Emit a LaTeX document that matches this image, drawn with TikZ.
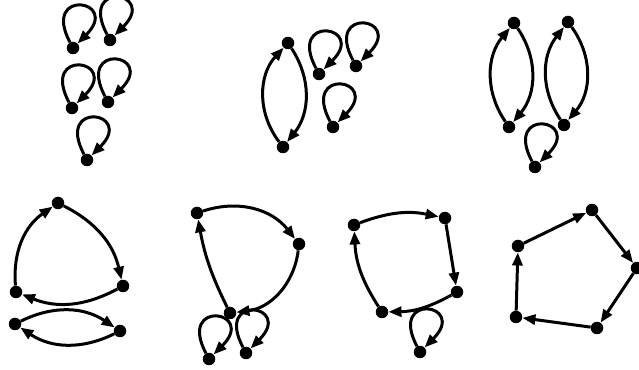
\documentclass[tikz,border=0pt]{standalone}
\usetikzlibrary{arrows.meta}
\begin{document}
\begin{tikzpicture}[x=1pt,y=1pt,
  dot/.style={circle,fill=black,inner sep=0pt,minimum size=12.5pt},
  arr/.style={line width=3pt,-{Triangle[length=13pt,width=10pt]}},
  selfloop/.style={out=118,in=45,min distance=62pt}]
\useasboundingbox (0,0) rectangle (639,369);
% panel 1
\node[dot] (A) at (73,321) {};
\node[dot] (B) at (110,329) {};
\node[dot] (C) at (72,261) {};
\node[dot] (D) at (108,267) {};
\node[dot] (E) at (87,209) {};
\foreach \n in {A,B,C,D,E} \draw[arr] (\n) to[selfloop] (\n);
% panel 2
\node[dot] (P) at (288,326) {};
\node[dot] (Q) at (283,222) {};
\node[dot] (R) at (319,295) {};
\node[dot] (S) at (356,303) {};
\node[dot] (T) at (333,242) {};
\draw[arr] (Q) to[bend left=40] (P);
\draw[arr] (P) to[bend left=36] (Q);
\foreach \n in {R,S,T} \draw[arr] (\n) to[selfloop] (\n);
% panel 3
\node[dot] (U1) at (514,346) {};
\node[dot] (U2) at (509,242) {};
\node[dot] (V1) at (568,347) {};
\node[dot] (V2) at (564,244) {};
\node[dot] (W) at (535,202) {};
\draw[arr] (U2) to[bend left=37] (U1);
\draw[arr] (U1) to[bend left=37] (U2);
\draw[arr] (V2) to[bend left=36] (V1);
\draw[arr] (V1) to[bend left=38] (V2);
\draw[arr] (W) to[selfloop] (W);
% panel 4
\node[dot] (X1) at (58,166) {};
\node[dot] (X2) at (123,83) {};
\node[dot] (X3) at (16,77) {};
\node[dot] (Y1) at (15,45) {};
\node[dot] (Y2) at (120,38) {};
\draw[arr] (X3) to[bend left=30] (X1);
\draw[arr] (X1) to[bend left=25] (X2);
\draw[arr] (X2) to[bend left=25] (X3);
\draw[arr] (Y1) to[bend left=30] (Y2);
\draw[arr] (Y2) to[bend left=30] (Y1);
% panel 5
\node[dot] (Z1) at (197,156) {};
\node[dot] (Z2) at (299,125) {};
\node[dot] (Z3) at (230,56) {};
\node[dot] (L1) at (209,10) {};
\node[dot] (L2) at (246,16) {};
\draw[arr] (Z1) to[bend left=35] (Z2);
\draw[arr] (Z2) to[bend left=38] (Z3);
\draw[arr] (Z3) to[bend left=8] (Z1);
\draw[arr] (L1) to[selfloop] (L1);
\draw[arr] (L2) to[selfloop] (L2);
% panel 6
\node[dot] (M1) at (354,144) {};
\node[dot] (M2) at (445,151) {};
\node[dot] (M3) at (457,77) {};
\node[dot] (M4) at (382,57) {};
\node[dot] (M5) at (420,17) {};
\draw[arr] (M1) to[bend left=16] (M2);
\draw[arr] (M2) -- (M3);
\draw[arr] (M3) to[bend left=14] (M4);
\draw[arr] (M4) to[bend left=15] (M1);
\draw[arr] (M5) to[selfloop] (M5);
% panel 7
\node[dot] (N1) at (518,123) {};
\node[dot] (N2) at (592,159) {};
\node[dot] (N3) at (637,101) {};
\node[dot] (N4) at (597,41) {};
\node[dot] (N5) at (516,52) {};
\draw[arr] (N1) -- (N2);
\draw[arr] (N2) -- (N3);
\draw[arr] (N3) -- (N4);
\draw[arr] (N4) -- (N5);
\draw[arr] (N5) -- (N1);
\end{tikzpicture}
\end{document}
